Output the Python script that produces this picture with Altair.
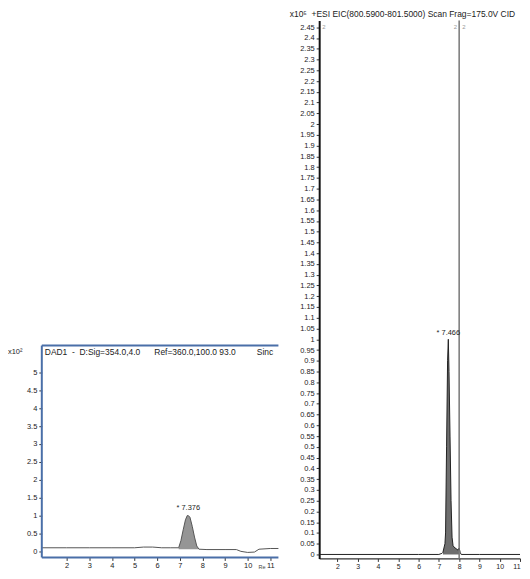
import altair as alt
import pandas as pd

FONT = "Liberation Sans"
NB = "\u00a0"

# ---------------- Left panel: DAD1 UV chromatogram (x10^2) ----------------
dad_time = [0.9, 2.0, 3.0, 4.0, 5.0, 5.4, 5.8, 6.2, 6.6, 6.95, 7.05, 7.15, 7.25,
            7.33, 7.376, 7.45, 7.55, 7.65, 7.75, 7.85, 8.2, 9.0, 9.5, 9.7, 10.0,
            10.3, 10.5, 11.0, 11.36]
dad_signal = [0.1, 0.1, 0.1, 0.1, 0.1, 0.12, 0.12, 0.1, 0.1, 0.1, 0.3, 0.6, 0.88,
              1.0, 1.0, 0.95, 0.7, 0.4, 0.15, 0.06, 0.05, 0.05, 0.05, 0.0, -0.03,
              -0.02, 0.06, 0.08, 0.08]
dad_peak_start, dad_peak_end, dad_base = 6.95, 7.85, 0.06
dad_rt = 7.376
dad_title_parts = ["DAD1", "-", "D:Sig=354.0,4.0", "Ref=360.0,100.0 93.0", "Sinc"]
dad_title_gaps = [2, 2, 6, 9]
dad_yticks = [0, 0.5, 1, 1.5, 2, 2.5, 3, 3.5, 4, 4.5, 5]
dad_xticks = [2, 3, 4, 5, 6, 7, 8, 9, 10, 11]
dad_xdom = [0.9, 11.36]
dad_ydom = [-0.17, 14.83]
dad_frame_top = 5.75

# ---------------- Right panel: +ESI EIC (x10^5) ----------------
eic_time = [1.1, 6.0, 7.0, 7.15, 7.2, 7.25, 7.3, 7.33, 7.38, 7.43, 7.466, 7.5,
            7.55, 7.6, 7.65, 7.7, 7.8, 7.95, 8.0, 8.05, 8.1, 9.0, 11.0]
eic_signal = [0.0, 0.0, 0.0, 0.005, 0.01, 0.03, 0.05, 0.1, 0.5, 0.9, 1.0, 0.85,
              0.55, 0.25, 0.08, 0.04, 0.03, 0.02, 0.03, 0.01, 0.0, 0.0, 0.0]
eic_peak_start, eic_peak_end = 7.2, 8.0
eic_rt = 7.466
eic_marker = 8.0
eic_title = "x10\u2075" + NB * 2 + "+ESI EIC(800.5900-801.5000) Scan Frag=175.0V CID"
eic_yticks = [round(i * 0.05, 2) for i in range(0, 50)]
eic_xticks = [2, 3, 4, 5, 6, 7, 8, 9, 10, 11]
eic_xdom = [1.1, 11.0]
eic_ydom = [-0.0185, 2.481]

BLUE = "#4a6fa8"
AX = "#333333"

label_fmt = "format(datum.value, '.2~f')"

dad_title = dad_title_parts[0]
for gap, part in zip(dad_title_gaps, dad_title_parts[1:]):
    dad_title += NB * gap + part

# ---- left panel ----
dad_df = pd.DataFrame({"t": dad_time, "s": dad_signal})
dad_peak_df = dad_df[(dad_df.t >= dad_peak_start) & (dad_df.t <= dad_peak_end)].copy()
dad_peak_df["b"] = dad_base

lx = alt.X("t:Q", scale=alt.Scale(domain=dad_xdom, nice=False, zero=False),
           axis=alt.Axis(values=dad_xticks, tickCount=50, format="d", title=None,
                         domain=False, grid=False, tickSize=3, labelPadding=1,
                         labelFontSize=7.5, labelFont=FONT, tickColor=AX,
                         labelColor="#222"))
ly = alt.Y("s:Q", scale=alt.Scale(domain=dad_ydom, nice=False, zero=False),
           axis=alt.Axis(values=dad_yticks, tickCount=50, title=None, domain=False,
                         grid=False, tickSize=3, labelPadding=2, labelFontSize=7.5,
                         labelFont=FONT, labelExpr=label_fmt, tickColor=AX,
                         labelColor="#222"))

dad_area = alt.Chart(dad_peak_df).mark_area(color="#8a8a8a", opacity=0.9).encode(
    x=lx, y=ly, y2="b:Q")
dad_line = alt.Chart(dad_df).mark_line(color="#555555", strokeWidth=1).encode(x=lx, y=ly)

frame_df = pd.DataFrame({"x0": [dad_xdom[0]], "x1": [dad_xdom[1]],
                         "yb": [dad_ydom[0]], "yt": [dad_frame_top]})
frame_left = alt.Chart(frame_df).mark_rule(color=BLUE, strokeWidth=2).encode(
    x="x0:Q", y="yb:Q", y2="yt:Q")
frame_top = alt.Chart(frame_df).mark_rule(color=BLUE, strokeWidth=2).encode(
    x="x0:Q", x2="x1:Q", y="yt:Q")
frame_bot = alt.Chart(frame_df).mark_rule(color=BLUE, strokeWidth=2).encode(
    x="x0:Q", x2="x1:Q", y="yb:Q")

dad_txt_df = pd.DataFrame({
    "x": [dad_xdom[0], dad_xdom[0], dad_rt, dad_xdom[1]],
    "y": [5.56, 5.56, 1.2, dad_ydom[0]],
    "label": [dad_title, "x10\u00b2", "* " + str(dad_rt), "Re"],
})
dad_title_txt = alt.Chart(dad_txt_df.iloc[[0]]).mark_text(
    align="left", baseline="middle", fontSize=8.5, font=FONT, color="#222", dx=3
).encode(x="x:Q", y="y:Q", text="label:N")
dad_x10_txt = alt.Chart(dad_txt_df.iloc[[1]]).mark_text(
    align="left", baseline="middle", fontSize=7.5, font=FONT, color="#222", dx=-34
).encode(x="x:Q", y="y:Q", text="label:N")
dad_rt_txt = alt.Chart(dad_txt_df.iloc[[2]]).mark_text(
    align="center", baseline="middle", fontSize=7.5, font=FONT, color="#222"
).encode(x="x:Q", y="y:Q", text="label:N")
dad_re_txt = alt.Chart(dad_txt_df.iloc[[3]]).mark_text(
    align="left", baseline="top", fontSize=5.5, font=FONT, color="#444", dx=-20, dy=8
).encode(x="x:Q", y="y:Q", text="label:N")

left = alt.layer(
    dad_area, dad_line, frame_left, frame_top, frame_bot,
    dad_title_txt, dad_x10_txt, dad_rt_txt, dad_re_txt
).properties(width=238, height=540)

# ---- right panel ----
eic_df = pd.DataFrame({"t": eic_time, "s": eic_signal})
eic_peak_df = eic_df[(eic_df.t >= eic_peak_start) & (eic_df.t <= eic_peak_end)].copy()
eic_peak_df["b"] = 0.0

rx = alt.X("t:Q", scale=alt.Scale(domain=eic_xdom, nice=False, zero=False),
           axis=alt.Axis(values=eic_xticks, tickCount=50, format="d", title=None,
                         grid=False, domainColor=AX, domainWidth=1.2, tickSize=3,
                         labelPadding=1, labelFontSize=7, labelFont=FONT,
                         tickColor=AX, labelColor="#222"))
ry = alt.Y("s:Q", scale=alt.Scale(domain=eic_ydom, nice=False, zero=False),
           axis=alt.Axis(values=eic_yticks, tickCount=100, title=None, grid=False,
                         domainColor="#111", domainWidth=2, tickSize=3, labelPadding=2,
                         labelFontSize=7.5, labelFont=FONT, labelExpr=label_fmt,
                         tickColor=AX, labelColor="#222", labelOverlap=False))

eic_area = alt.Chart(eic_peak_df).mark_area(color="#6e6e6e").encode(x=rx, y=ry, y2="b:Q")
eic_line = alt.Chart(eic_df).mark_line(color="#222222", strokeWidth=1).encode(x=rx, y=ry)

marker_df = pd.DataFrame({"x": [eic_marker], "y0": [eic_ydom[0]], "y1": [eic_ydom[1]]})
eic_marker_rule = alt.Chart(marker_df).mark_rule(color="#777777", strokeWidth=1.5).encode(
    x="x:Q", y="y0:Q", y2="y1:Q")

eic_txt_df = pd.DataFrame({"x": [eic_rt], "y": [1.03], "label": ["* " + str(eic_rt)]})
eic_rt_txt = alt.Chart(eic_txt_df).mark_text(
    align="center", baseline="middle", fontSize=7.5, font=FONT, color="#222"
).encode(x="x:Q", y="y:Q", text="label:N")

mini_df = pd.DataFrame({"x": [eic_xdom[0], eic_marker, eic_marker],
                        "y": [2.45, 2.45, 2.45], "label": ["2", "2", "2"],
                        "side": ["r", "l", "r"]})
mini_r = alt.Chart(mini_df[mini_df.side == "r"]).mark_text(
    align="left", baseline="middle", fontSize=6, font=FONT, color="#999", dx=3
).encode(x="x:Q", y="y:Q", text="label:N")
mini_l = alt.Chart(mini_df[mini_df.side == "l"]).mark_text(
    align="right", baseline="middle", fontSize=6, font=FONT, color="#999", dx=-2
).encode(x="x:Q", y="y:Q", text="label:N")

right = alt.layer(
    eic_area, eic_line, eic_marker_rule, eic_rt_txt, mini_r, mini_l
).properties(
    width=202, height=541,
    title=alt.TitleParams(eic_title, anchor="start", fontSize=8.5, font=FONT,
                          fontWeight="normal", color="#222", offset=1, limit=238,
                          dx=-10),
)

chart = alt.hconcat(left, right, spacing=9).properties(
    padding=0, background="white"
).configure_view(stroke=None)

chart.save("out.html", embed_options={"renderer": "svg", "actions": False})
